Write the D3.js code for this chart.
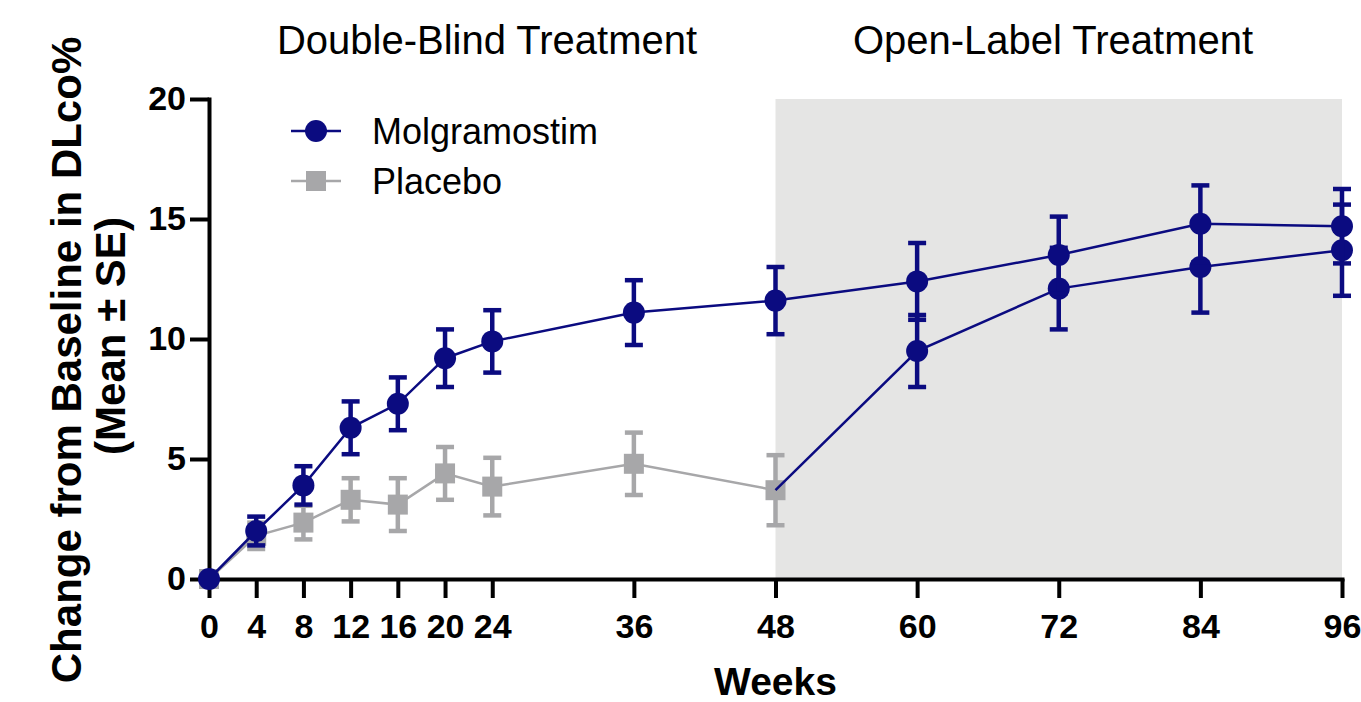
<!DOCTYPE html>
<html>
<head>
<meta charset="utf-8">
<script src="https://cdn.jsdelivr.net/npm/d3@7"></script>
<style>
  body { margin: 0; background: #fff; }
  svg text { font-family: "Liberation Sans", Arial, sans-serif; }
  .axis path, .axis line { stroke: #000; stroke-width: 4; }
  .axis text { font-size: 34px; font-weight: bold; fill: #000; }
</style>
</head>
<body>
<svg id="chart" width="1361" height="702"></svg>
<script>
// weeks on the x axis
const weeks = [0, 4, 8, 12, 16, 20, 24, 36, 48, 60, 72, 84, 96];
const yTicks = [0, 5, 10, 15, 20];

// molgramostim arm, whole 96 weeks
const molgMean = [0, 2.0, 3.9, 6.3, 7.3, 9.2, 9.9, 11.1, 11.6, 12.4, 13.5, 14.8, 14.7];
const molgSE   = [0, 0.6, 0.8, 1.1, 1.1, 1.2, 1.3, 1.35, 1.4, 1.6, 1.6, 1.6, 1.55];

// placebo arm, double-blind part
const placeboWeeks = [0, 4, 8, 12, 16, 20, 24, 36, 48];
const placeboMean = [0, 1.8, 2.35, 3.3, 3.1, 4.4, 3.85, 4.8, 3.7];
const placeboSE   = [0, 0.55, 0.7, 0.9, 1.1, 1.1, 1.2, 1.3, 1.46];

// placebo patients switched to molgramostim (open label)
const switchWeeks = [48, 60, 72, 84, 96];
const switchMean = [3.7, 9.5, 12.1, 13.0, 13.7];
const switchSE   = [null, 1.5, 1.7, 1.9, 1.9];

const navy = '#0b0b80';
const grey = '#a7a7a9';

const svg = d3.select('#chart');
const margin = {top: 99, right: 19, bottom: 123, left: 209};
const width = 1361 - margin.left - margin.right;
const height = 702 - margin.top - margin.bottom;

const x = d3.scaleLinear().domain([0, 96]).range([0, width]);
const y = d3.scaleLinear().domain([0, 20]).range([height, 0]);

const chart = svg.append('g')
  .attr('transform', `translate(${margin.left}, ${margin.top})`);

// open-label shading
chart.append('rect')
  .attr('x', x(48))
  .attr('y', y(20))
  .attr('width', x(96) - x(48))
  .attr('height', y(0) - y(20))
  .attr('fill', '#e5e5e4');

// axes
chart.append('g')
  .attr('class', 'axis')
  .attr('transform', `translate(0, ${height})`)
  .call(d3.axisBottom(x).tickValues(weeks).tickSize(19).tickSizeOuter(0).tickPadding(16))
  .select('.domain').attr('stroke-linecap', 'square');

chart.append('g')
  .attr('class', 'axis')
  .call(d3.axisLeft(y).tickValues(yTicks).tickSize(19).tickSizeOuter(0).tickPadding(4))
  .select('.domain').attr('stroke-linecap', 'square');

const line = d3.line().x(d => x(d[0])).y(d => y(d[1]));

function drawErrors(xs, means, ses, color) {
  const pts = xs.map((w, i) => ({w, m: means[i], s: ses[i]})).filter(d => d.s);
  const g = chart.append('g').attr('stroke', color).attr('stroke-width', 4.5);
  pts.forEach(d => {
    g.append('line').attr('x1', x(d.w)).attr('x2', x(d.w))
      .attr('y1', y(d.m - d.s)).attr('y2', y(d.m + d.s));
    [d.m - d.s, d.m + d.s].forEach(v => {
      g.append('line').attr('x1', x(d.w) - 9).attr('x2', x(d.w) + 9)
        .attr('y1', y(v)).attr('y2', y(v));
    });
  });
}

// placebo
chart.append('path')
  .datum(placeboWeeks.map((w, i) => [w, placeboMean[i]]))
  .attr('fill', 'none').attr('stroke', grey).attr('stroke-width', 2.5)
  .attr('d', line);
drawErrors(placeboWeeks, placeboMean, placeboSE, grey);
chart.append('g').selectAll('rect')
  .data(placeboWeeks.map((w, i) => [w, placeboMean[i]]))
  .join('rect')
  .attr('x', d => x(d[0]) - 10).attr('y', d => y(d[1]) - 10)
  .attr('width', 20).attr('height', 20)
  .attr('fill', grey);

// switch arm
chart.append('path')
  .datum(switchWeeks.map((w, i) => [w, switchMean[i]]))
  .attr('fill', 'none').attr('stroke', navy).attr('stroke-width', 2.5)
  .attr('d', line);
drawErrors(switchWeeks, switchMean, switchSE, navy);
chart.append('g').selectAll('circle')
  .data(switchWeeks.slice(1).map((w, i) => [w, switchMean[i + 1]]))
  .join('circle')
  .attr('cx', d => x(d[0])).attr('cy', d => y(d[1])).attr('r', 11)
  .attr('fill', navy);

// molgramostim
chart.append('path')
  .datum(weeks.map((w, i) => [w, molgMean[i]]))
  .attr('fill', 'none').attr('stroke', navy).attr('stroke-width', 2.5)
  .attr('d', line);
drawErrors(weeks, molgMean, molgSE, navy);
chart.append('g').selectAll('circle')
  .data(weeks.map((w, i) => [w, molgMean[i]]))
  .join('circle')
  .attr('cx', d => x(d[0])).attr('cy', d => y(d[1])).attr('r', 11)
  .attr('fill', navy);

// legend
const legend = svg.append('g').attr('transform', 'translate(291, 131)');
legend.append('line').attr('x1', 0).attr('x2', 50).attr('y1', 0).attr('y2', 0)
  .attr('stroke', navy).attr('stroke-width', 2.5);
legend.append('circle').attr('cx', 25).attr('cy', 0).attr('r', 11).attr('fill', navy);
legend.append('text').attr('x', 81).attr('y', 0).attr('dy', '0.35em')
  .attr('font-size', 36).text('Molgramostim');
legend.append('line').attr('x1', 0).attr('x2', 50).attr('y1', 50).attr('y2', 50)
  .attr('stroke', grey).attr('stroke-width', 2.5);
legend.append('rect').attr('x', 15).attr('y', 40).attr('width', 20).attr('height', 20).attr('fill', grey);
legend.append('text').attr('x', 81).attr('y', 50).attr('dy', '0.35em')
  .attr('font-size', 36).text('Placebo');

// phase titles
svg.append('text').attr('x', 487).attr('y', 54).attr('text-anchor', 'middle')
  .attr('font-size', 40).text('Double-Blind Treatment');
svg.append('text').attr('x', 1053).attr('y', 54).attr('text-anchor', 'middle')
  .attr('font-size', 40).text('Open-Label Treatment');

// axis titles
svg.append('text').attr('x', margin.left + x(48)).attr('y', 695).attr('text-anchor', 'middle')
  .attr('font-size', 39).attr('font-weight', 'bold').text('Weeks');

svg.append('text')
  .attr('transform', 'translate(81, 360) rotate(-90)')
  .attr('text-anchor', 'middle')
  .attr('font-size', 42).attr('font-weight', 'bold')
  .text('Change from Baseline in DLco%');
svg.append('text')
  .attr('transform', 'translate(125, 336) rotate(-90)')
  .attr('text-anchor', 'middle')
  .attr('font-size', 42).attr('font-weight', 'bold')
  .text('(Mean ± SE)');
</script>
</body>
</html>
